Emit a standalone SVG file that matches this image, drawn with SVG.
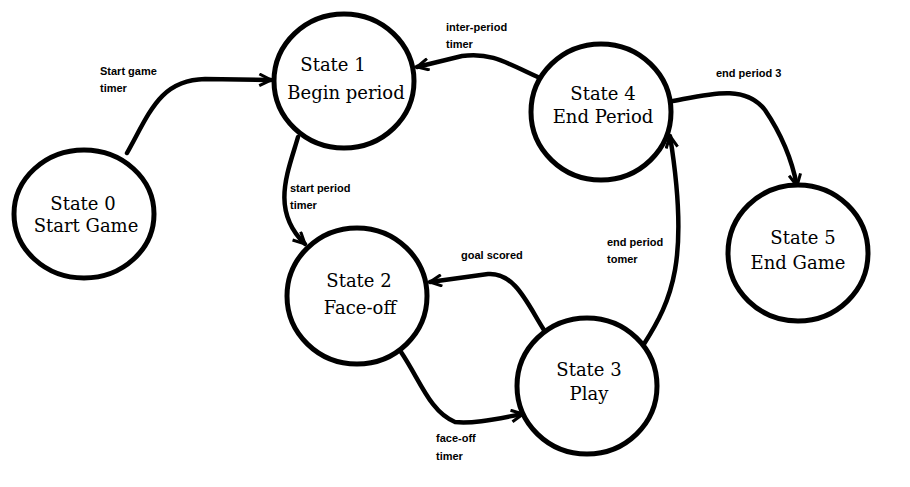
<svg xmlns="http://www.w3.org/2000/svg" width="910" height="487" viewBox="0 0 910 487">
<defs>
<style>
.node{fill:#fff;stroke:#000;stroke-width:5}
.nt{font-family:"DejaVu Serif","Liberation Serif",serif;font-size:18px;fill:#000;text-anchor:middle}
.edge{fill:none;stroke:#000;stroke-width:4.5;stroke-linecap:round}
.lbl{font-family:"Liberation Sans",Arial,sans-serif;font-size:11px;font-weight:bold;fill:#000}
</style>
<marker id="arr" viewBox="0 0 12 12" refX="11" refY="6" markerWidth="14" markerHeight="14" markerUnits="userSpaceOnUse" orient="auto">
<path d="M1,1 L11,6 L1,11" fill="none" stroke="#000" stroke-width="2.6"/>
</marker>
</defs>
<rect width="910" height="487" fill="#fff"/>
<g id="connectors">
<path class="edge" marker-end="url(#arr)" d="M127,153 C150,112 160,80 205,79 L271,80"/>
<path class="edge" marker-end="url(#arr)" d="M298,137 C288,172 270,210 305,244"/>
<path class="edge" marker-end="url(#arr)" d="M540,78 C505,62 490,52 462,56 L417,67"/>
<path class="edge" marker-end="url(#arr)" d="M673,101 C710,94 745,84 765,110 C782,135 792,160 797,186"/>
<path class="edge" marker-end="url(#arr)" d="M644,344 C672,300 690,260 670,136"/>
<path class="edge" marker-end="url(#arr)" d="M544,330 C528,305 515,272 488,274 L430,282"/>
<path class="edge" marker-end="url(#arr)" d="M401,352 C420,380 430,412 455,422 C475,424 500,418 523,414"/>
</g>
<g id="labels">
<text class="lbl" x="100" y="75">Start game</text>
<text class="lbl" x="100" y="92">timer</text>
<text class="lbl" x="446" y="31">inter-period</text>
<text class="lbl" x="446" y="48">timer</text>
<text class="lbl" x="716" y="77">end period 3</text>
<text class="lbl" x="290" y="192">start period</text>
<text class="lbl" x="290" y="209">timer</text>
<text class="lbl" x="461" y="259">goal scored</text>
<text class="lbl" x="607" y="246">end period</text>
<text class="lbl" x="607" y="263">tomer</text>
<text class="lbl" x="436" y="442">face-off</text>
<text class="lbl" x="436" y="460">timer</text>
</g>
<g id="state0"><ellipse class="node" cx="84" cy="214" rx="70" ry="64"/><text class="nt" x="83" y="210">State 0</text><text class="nt" x="86" y="232">Start Game</text></g>
<g id="state1"><ellipse class="node" cx="344" cy="81" rx="70" ry="67"/><text class="nt" x="333" y="71">State 1</text><text class="nt" x="346" y="99">Begin period</text></g>
<g id="state2"><ellipse class="node" cx="357" cy="296" rx="70" ry="68"/><text class="nt" x="359" y="287">State 2</text><text class="nt" x="360" y="314">Face-off</text></g>
<g id="state3"><ellipse class="node" cx="587" cy="386" rx="70" ry="68"/><text class="nt" x="589" y="376">State 3</text><text class="nt" x="589" y="400">Play</text></g>
<g id="state4"><ellipse class="node" cx="601" cy="112" rx="70" ry="68"/><text class="nt" x="603" y="100">State 4</text><text class="nt" x="603" y="123">End Period</text></g>
<g id="state5"><ellipse class="node" cx="798" cy="253" rx="70" ry="68"/><text class="nt" x="803" y="244">State 5</text><text class="nt" x="798" y="269">End Game</text></g>
</svg>
